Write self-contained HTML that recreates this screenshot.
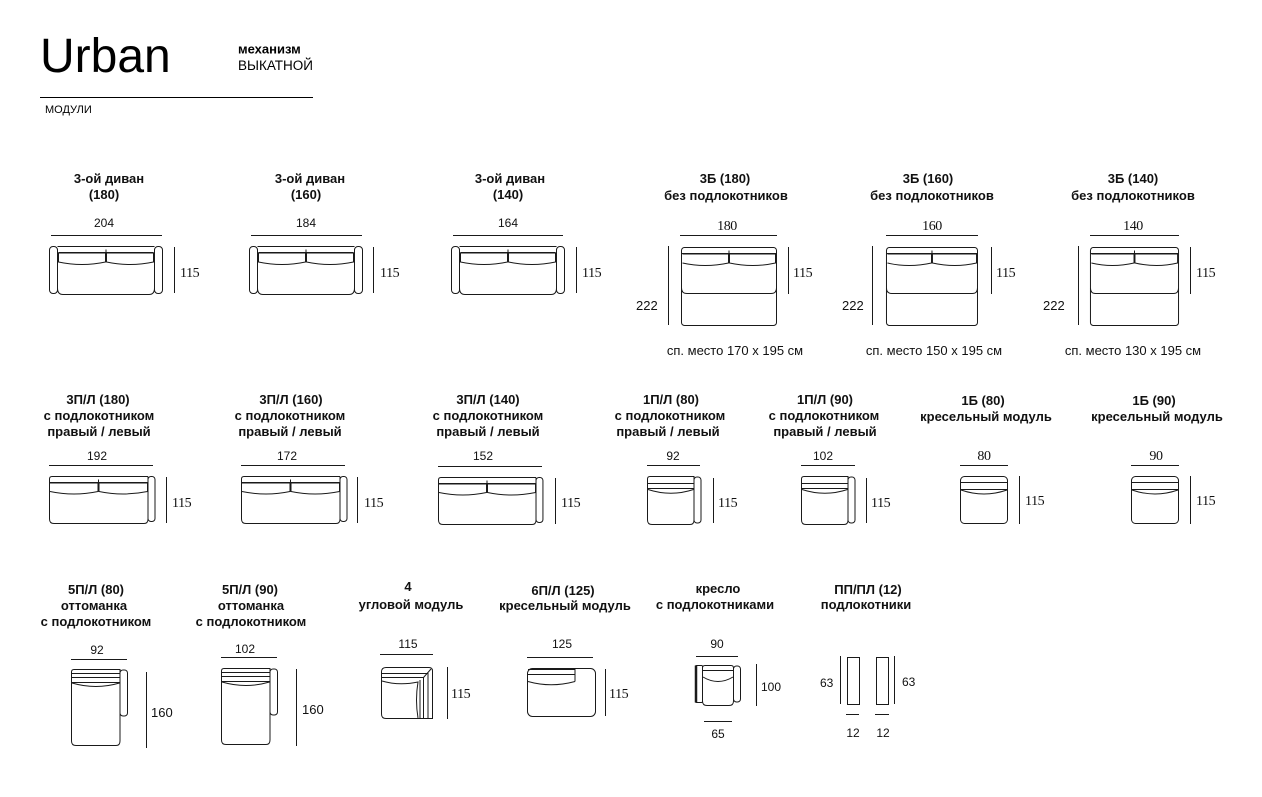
<!DOCTYPE html>
<html><head><meta charset="utf-8">
<style>
html,body{margin:0;padding:0;background:#fff;}
svg{display:block;}
.t{font-family:"Liberation Sans",Arial,sans-serif;font-weight:bold;font-size:13px;fill:#111;text-anchor:middle;}
.n{font-family:"Liberation Sans",Arial,sans-serif;font-size:12px;fill:#111;text-anchor:middle;}
.nl{font-family:"Liberation Sans",Arial,sans-serif;font-size:12px;fill:#111;text-anchor:start;}
.n13{font-family:"Liberation Sans",Arial,sans-serif;font-size:13px;fill:#111;}
.s{font-family:"Liberation Serif","Times New Roman",serif;font-size:14px;fill:#111;letter-spacing:-0.4px;}
.sm{font-family:"Liberation Serif","Times New Roman",serif;font-size:14px;fill:#111;text-anchor:middle;letter-spacing:-0.4px;}
.d{stroke:#1a1a1a;stroke-width:1;fill:none;}
.d *{vector-effect:non-scaling-stroke;}
</style></head>
<body>
<svg width="1262" height="797" viewBox="0 0 1262 797" xmlns="http://www.w3.org/2000/svg">
<defs>
  <g id="s3">
    <rect x="0.5" y="0.5" width="8" height="47" rx="3.5" vector-effect="non-scaling-stroke"/>
    <rect x="105.5" y="0.5" width="8" height="47" rx="3.5" vector-effect="non-scaling-stroke"/>
    <path d="M8.5,0.5H105.5 M8.5,3V42Q8.5,48.5 14,48.5H100Q105.5,48.5 105.5,42V3" vector-effect="non-scaling-stroke"/>
    <path d="M9.5,6.5H104.5" vector-effect="non-scaling-stroke"/>
    <path d="M9.5,7H56.5V16Q33,21 9.5,16Z" vector-effect="non-scaling-stroke"/>
    <path d="M57.5,7H104.5V16Q81,21 57.5,16Z" vector-effect="non-scaling-stroke"/>
    <path d="M57,3.5V7" vector-effect="non-scaling-stroke"/>
  </g>
  <g id="b3">
    <rect x="0.5" y="0.5" width="95" height="78" rx="3" vector-effect="non-scaling-stroke"/>
    <path d="M1,6.5H95" vector-effect="non-scaling-stroke"/>
    <path d="M1.5,7H47.5V16Q24,21 1.5,16" vector-effect="non-scaling-stroke"/>
    <path d="M48.5,7H94.5V16Q72,21 48.5,16Z" vector-effect="non-scaling-stroke"/>
    <path d="M48,3.5V7" vector-effect="non-scaling-stroke"/>
    <path d="M0.5,41Q0.5,46.5 6,46.5H90Q95.5,46.5 95.5,41" vector-effect="non-scaling-stroke"/>
  </g>
  <g id="p3">
    <path d="M0.5,3Q0.5,0.5 3,0.5H99 M0.5,3V43Q0.5,47.5 5,47.5H95Q99,47.5 99,43V0.5" vector-effect="non-scaling-stroke"/>
    <rect x="99" y="0.5" width="7" height="45" rx="3" vector-effect="non-scaling-stroke"/>
    <path d="M1,6.5H98.5" vector-effect="non-scaling-stroke"/>
    <path d="M1,7H49V15.5Q25,20.5 1,15.5" vector-effect="non-scaling-stroke"/>
    <path d="M50,7H98.5V15.5Q74,20.5 50,15.5Z" vector-effect="non-scaling-stroke"/>
    <path d="M49.5,3.5V7" vector-effect="non-scaling-stroke"/>
  </g>
  <g id="p1">
    <path d="M0.5,3Q0.5,0.5 3,0.5H47V44Q47,48.5 43,48.5H5Q0.5,48.5 0.5,44Z" vector-effect="non-scaling-stroke"/>
    <rect x="47" y="1" width="7" height="46" rx="3" vector-effect="non-scaling-stroke"/>
    <path d="M1,7.5H46.5" vector-effect="non-scaling-stroke"/>
    <path d="M1,12.5H46.5" vector-effect="non-scaling-stroke"/>
    <path d="M1,13.5Q24,21 46.5,13.5" vector-effect="non-scaling-stroke"/>
  </g>
  <g id="b1">
    <rect x="0.5" y="0.5" width="47" height="47" rx="4" vector-effect="non-scaling-stroke"/>
    <path d="M1,6.5H47" vector-effect="non-scaling-stroke"/>
    <path d="M1,13.5H47" vector-effect="non-scaling-stroke"/>
    <path d="M1,14Q24,22 47,14" vector-effect="non-scaling-stroke"/>
  </g>
  <g id="o5">
    <path d="M0.5,3Q0.5,0.5 3,0.5H49V72Q49,76.5 45,76.5H5Q0.5,76.5 0.5,72Z" vector-effect="non-scaling-stroke"/>
    <rect x="49" y="1" width="7.5" height="46" rx="3" vector-effect="non-scaling-stroke"/>
    <path d="M1,4.5H48.5" vector-effect="non-scaling-stroke"/>
    <path d="M1,8.5H48.5" vector-effect="non-scaling-stroke"/>
    <path d="M1,13.5H48.5" vector-effect="non-scaling-stroke"/>
    <path d="M1,14Q25,21 48.5,14" vector-effect="non-scaling-stroke"/>
  </g>
</defs>

<!-- Header -->
<text x="40" y="72" style="font-family:'Liberation Sans',Arial,sans-serif;font-size:48px;fill:#000;">Urban</text>
<text x="238" y="53.5" style="font-family:'Liberation Sans',Arial,sans-serif;font-size:13px;font-weight:bold;fill:#000;">механизм</text>
<text x="238" y="70" style="font-family:'Liberation Sans',Arial,sans-serif;font-size:13.5px;fill:#000;">ВЫКАТНОЙ</text>
<line x1="40" y1="97.5" x2="313" y2="97.5" stroke="#000" stroke-width="1"/>
<text x="45" y="113" style="font-family:'Liberation Sans',Arial,sans-serif;font-size:11px;fill:#000;">МОДУЛИ</text>

<!-- ROW 1 titles -->
<text class="t" x="109" y="183">3-ой диван</text>
<text class="t" x="104" y="199">(180)</text>
<text class="t" x="310" y="183">3-ой диван</text>
<text class="t" x="306" y="199">(160)</text>
<text class="t" x="510" y="183">3-ой диван</text>
<text class="t" x="508" y="199">(140)</text>
<text class="t" x="725" y="183">3Б (180)</text>
<text class="t" x="726" y="200">без подлокотников</text>
<text class="t" x="928" y="183">3Б (160)</text>
<text class="t" x="932" y="200">без подлокотников</text>
<text class="t" x="1133" y="183">3Б (140)</text>
<text class="t" x="1133" y="200">без подлокотников</text>

<!-- ROW 1 dims -->
<text class="n" x="104" y="227">204</text>
<text class="n" x="306" y="227">184</text>
<text class="n" x="508" y="227">164</text>
<text class="sm" x="727" y="230">180</text>
<text class="sm" x="932" y="230">160</text>
<text class="sm" x="1133" y="230">140</text>
<text class="s" x="180" y="277">115</text>
<text class="s" x="380" y="277">115</text>
<text class="s" x="582" y="277">115</text>
<text class="s" x="793" y="277">115</text>
<text class="s" x="996" y="277">115</text>
<text class="s" x="1196" y="277">115</text>
<text class="n13" x="636" y="310">222</text>
<text class="n13" x="842" y="310">222</text>
<text class="n13" x="1043" y="310">222</text>
<text class="n13" x="735" y="355" text-anchor="middle">сп. место 170 x 195 см</text>
<text class="n13" x="934" y="355" text-anchor="middle">сп. место 150 x 195 см</text>
<text class="n13" x="1133" y="355" text-anchor="middle">сп. место 130 x 195 см</text>

<g class="d">
  <path d="M51,235.5H162 M174.5,247V293"/>
  <path d="M251,235.5H362 M373.5,247V293"/>
  <path d="M453,235.5H563 M576.5,247V293"/>
  <path d="M680,235.5H777 M668.5,246V325 M788.5,247V294"/>
  <path d="M886,235.5H978 M872.5,246V325 M991.5,247V294"/>
  <path d="M1090,235.5H1179 M1078.5,246V325 M1190.5,247V294"/>
  <use href="#s3" x="49" y="246"/>
  <use href="#s3" x="249" y="246"/>
  <use href="#s3" x="451" y="246"/>
  <use href="#b3" transform="translate(681,247)"/>
  <use href="#b3" transform="translate(886,247) scale(0.958,1)"/>
  <use href="#b3" transform="translate(1090,247) scale(0.927,1)"/>
</g>

<!-- ROW 2 titles -->
<text class="t" x="98" y="404">3П/Л (180)</text>
<text class="t" x="99" y="420">с подлокотником</text>
<text class="t" x="99" y="436">правый / левый</text>
<text class="t" x="291" y="404">3П/Л (160)</text>
<text class="t" x="290" y="420">с подлокотником</text>
<text class="t" x="290" y="436">правый / левый</text>
<text class="t" x="488" y="404">3П/Л (140)</text>
<text class="t" x="488" y="420">с подлокотником</text>
<text class="t" x="488" y="436">правый / левый</text>
<text class="t" x="671" y="404">1П/Л (80)</text>
<text class="t" x="670" y="420">с подлокотником</text>
<text class="t" x="668" y="436">правый / левый</text>
<text class="t" x="825" y="404">1П/Л (90)</text>
<text class="t" x="824" y="420">с подлокотником</text>
<text class="t" x="825" y="436">правый / левый</text>
<text class="t" x="983" y="405">1Б (80)</text>
<text class="t" x="986" y="421">кресельный модуль</text>
<text class="t" x="1154" y="405">1Б (90)</text>
<text class="t" x="1157" y="421">кресельный модуль</text>

<!-- ROW 2 dims -->
<text class="n" x="97" y="460">192</text>
<text class="n" x="287" y="460">172</text>
<text class="n" x="483" y="460">152</text>
<text class="n" x="673" y="460">92</text>
<text class="n" x="823" y="460">102</text>
<text class="sm" x="984" y="460">80</text>
<text class="sm" x="1156" y="460">90</text>
<text class="s" x="172" y="507">115</text>
<text class="s" x="364" y="507">115</text>
<text class="s" x="561" y="507">115</text>
<text class="s" x="718" y="507">115</text>
<text class="s" x="871" y="507">115</text>
<text class="s" x="1025" y="505">115</text>
<text class="s" x="1196" y="505">115</text>

<g class="d">
  <path d="M49,465.5H153 M166.5,477V523"/>
  <path d="M241,465.5H345 M357.5,477V523"/>
  <path d="M438,466.5H542 M555.5,478V524"/>
  <path d="M647,465.5H700 M713.5,478V523"/>
  <path d="M801,465.5H855 M866.5,478V523"/>
  <path d="M960,465.5H1008 M1019.5,476V524"/>
  <path d="M1131,465.5H1179 M1190.5,476V524"/>
  <use href="#p3" x="49" y="476"/>
  <use href="#p3" x="241" y="476"/>
  <use href="#p3" transform="translate(438,477) scale(0.99,1)"/>
  <use href="#p1" x="647" y="476"/>
  <use href="#p1" x="801" y="476"/>
  <use href="#b1" x="960" y="476"/>
  <use href="#b1" x="1131" y="476"/>
</g>

<!-- ROW 3 titles -->
<text class="t" x="96" y="594">5П/Л (80)</text>
<text class="t" x="94" y="610">оттоманка</text>
<text class="t" x="96" y="626">с подлокотником</text>
<text class="t" x="250" y="594">5П/Л (90)</text>
<text class="t" x="251" y="610">оттоманка</text>
<text class="t" x="251" y="626">с подлокотником</text>
<text class="t" x="408" y="591">4</text>
<text class="t" x="411" y="609">угловой модуль</text>
<text class="t" x="563" y="595">6П/Л (125)</text>
<text class="t" x="565" y="610">кресельный модуль</text>
<text class="t" x="718" y="593">кресло</text>
<text class="t" x="715" y="609">с подлокотниками</text>
<text class="t" x="868" y="594">ПП/ПЛ (12)</text>
<text class="t" x="866" y="609">подлокотники</text>

<!-- ROW 3 dims -->
<text class="n" x="97" y="654">92</text>
<text class="n" x="245" y="653">102</text>
<text class="n13" x="151" y="717">160</text>
<text class="n13" x="302" y="714">160</text>
<text class="n" x="408" y="648">115</text>
<text class="s" x="451" y="698">115</text>
<text class="n" x="562" y="648">125</text>
<text class="s" x="609" y="698">115</text>
<text class="n" x="717" y="648">90</text>
<text class="nl" x="761" y="691" style="text-anchor:start;">100</text>
<text class="n" x="718" y="738">65</text>
<text class="nl" x="820" y="687" style="text-anchor:start;">63</text>
<text class="nl" x="902" y="686" style="text-anchor:start;">63</text>
<text class="n" x="853" y="737">12</text>
<text class="n" x="883" y="737">12</text>

<g class="d">
  <path d="M71,659.5H127 M146.5,672V748"/>
  <path d="M221,657.5H277 M296.5,669V746"/>
  <path d="M380,654.5H433 M447.5,667V719"/>
  <path d="M527,657.5H593 M605.5,669V716"/>
  <path d="M696,656.5H738 M756.5,664V706 M704,721.5H732"/>
  <path d="M840.5,656V704 M894.5,656V704 M846,714.5H859 M875,714.5H889"/>
  <use href="#o5" x="71" y="669"/>
  <use href="#o5" x="221" y="668"/>
  <g transform="translate(381,667)">
    <path d="M5,0.5H48Q51.5,0.5 51.5,4V51.5H5Q0.5,51.5 0.5,47V5Q0.5,0.5 5,0.5Z"/>
    <path d="M1,6.5H47V51"/>
    <path d="M1,10.5H42.5V51"/>
    <path d="M1,14Q18,19 37,15Q34,33 37,51"/>
    <path d="M39,13V51"/>
    <path d="M42.5,10.5L50,2"/>
  </g>
  <g transform="translate(527,668)">
    <rect x="0.5" y="0.5" width="68" height="48" rx="5"/>
    <path d="M1,1.5H48V13.5 M1,6.5H48"/>
    <path d="M1,13.5Q24,20 48,13.5"/>
  </g>
  <g transform="translate(695,665)">
    <rect x="0.5" y="0.5" width="7" height="37" rx="1"/>
    <path d="M1,0.5V37.5" stroke-width="2.5"/>
    <path d="M7.5,3Q7.5,0.5 10,0.5H36Q38.5,0.5 38.5,3V36Q38.5,40.5 34,40.5H12Q7.5,40.5 7.5,36Z"/>
    <rect x="38.5" y="1" width="7" height="36" rx="3"/>
    <path d="M8,5.5H38"/>
    <path d="M8,12Q23,21 38,12"/>
  </g>
  <rect x="847.5" y="657.5" width="12" height="47"/>
  <rect x="876.5" y="657.5" width="12" height="47"/>
</g>
</svg>
</body></html>
